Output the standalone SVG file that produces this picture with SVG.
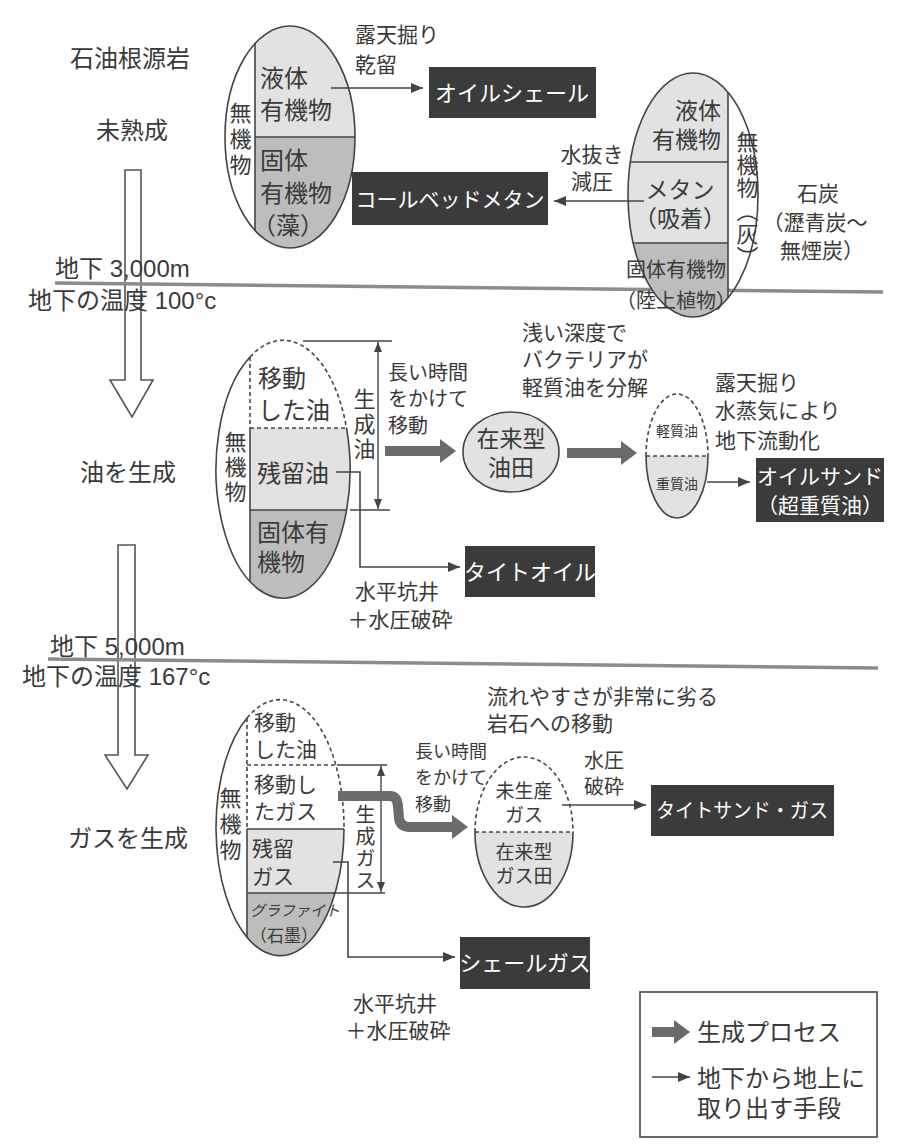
<svg xmlns="http://www.w3.org/2000/svg" width="899" height="1144" viewBox="0 0 899 1144">
<defs>
<style>
text{font-family:"Liberation Sans","Noto Sans CJK JP",sans-serif;fill:#3a3a3a;dominant-baseline:central}
.s24{font-size:24px}.s23{font-size:23px}.s22{font-size:22px}.s21{font-size:21px}.s20{font-size:20px}.s19{font-size:19px}.s18{font-size:18px}.s14{font-size:14px}
.mid{text-anchor:middle}.end{text-anchor:end}
.vt{writing-mode:vertical-rl;text-anchor:middle}
.wt{fill:#ffffff;text-anchor:middle}
.box{fill:#3b3b3b}
.ol{fill:none;stroke:#444;stroke-width:1.6}
.dash{fill:none;stroke:#444;stroke-width:1.6;stroke-dasharray:4 3}
.lt{fill:#e2e2e2}.dk{fill:#bdbdbd}
.thin{fill:none;stroke:#444;stroke-width:1.6;marker-end:url(#ah)}
.thick{fill:none;stroke:#6b6b6b;stroke-width:10;marker-end:url(#th)}
.dim{fill:none;stroke:#444;stroke-width:1.4}
.dimA{fill:none;stroke:#444;stroke-width:1.4;marker-start:url(#da);marker-end:url(#da)}
.rule{stroke:#8c8c8c;stroke-width:3.5}
.big{fill:#fff;stroke:#555;stroke-width:1.6}
</style>
<marker id="ah" markerUnits="userSpaceOnUse" markerWidth="12" markerHeight="10" refX="12" refY="5" orient="auto"><path d="M0,0 L12,5 L0,10 z" fill="#444"/></marker>
<marker id="th" markerUnits="userSpaceOnUse" markerWidth="16" markerHeight="24" refX="0" refY="12" orient="auto"><path d="M0,0 L16,12 L0,24 z" fill="#6b6b6b"/></marker>
<marker id="da" markerUnits="userSpaceOnUse" markerWidth="10" markerHeight="8" refX="10" refY="4" orient="auto-start-reverse"><path d="M0,0 L10,4 L0,8 z" fill="#444"/></marker>
<clipPath id="c1"><ellipse cx="290" cy="137" rx="65" ry="111"/></clipPath>
<clipPath id="c2"><ellipse cx="693" cy="195" rx="65" ry="122"/></clipPath>
<clipPath id="c3"><ellipse cx="283" cy="469" rx="67" ry="129"/></clipPath>
<clipPath id="c4"><ellipse cx="280" cy="828" rx="64" ry="128"/></clipPath>
</defs>
<rect width="899" height="1144" fill="#ffffff"/>

<g id="depth-axis">
<polygon class="big" points="125,170 141,170 141,380 153,380 132,417 110,380 125,380"/>
<polygon class="big" points="118,545 135,545 135,755 148,755 127,789 105,755 118,755"/>
<line class="rule" x1="55" y1="283" x2="883" y2="292"/>
<line class="rule" x1="48" y1="659" x2="878" y2="668"/>
<text class="s24" x="70" y="58">石油根源岩</text>
<text class="s24" x="96" y="130">未熟成</text>
<text class="s24" x="55" y="268">地下 3,000m</text>
<text class="s24" x="28" y="300">地下の温度 100°c</text>
<text class="s24" x="80" y="472">油を生成</text>
<text class="s24" x="50" y="646">地下 5,000m</text>
<text class="s24" x="22" y="676">地下の温度 167°c</text>
<text class="s24" x="68" y="838">ガスを生成</text>
</g>

<g id="source-rock">
<g clip-path="url(#c1)">
<rect class="lt" x="255" y="20" width="120" height="117"/>
<rect class="dk" x="255" y="137" width="120" height="120"/>
<line class="ol" x1="255" y1="137" x2="360" y2="137"/>
</g>
<line class="ol" x1="255" y1="43" x2="255" y2="231"/>
<ellipse class="ol" cx="290" cy="137" rx="65" ry="111"/>
<text class="s24" x="260" y="78">液体<tspan x="260" y="110">有機物</tspan></text>
<text class="s22 vt" x="238" y="141" letter-spacing="4">無機物</text>
<text class="s24" x="260" y="160">固体<tspan x="260" y="193">有機物</tspan><tspan x="252" y="225">（藻）</tspan></text>
</g>

<g id="coal">
<g clip-path="url(#c2)">
<rect class="lt" x="620" y="65" width="108" height="178"/>
<rect class="dk" x="620" y="243" width="108" height="90"/>
<line class="ol" x1="620" y1="162" x2="728" y2="162"/>
<line class="ol" x1="620" y1="243" x2="728" y2="243"/>
</g>
<line class="ol" x1="728" y1="92" x2="728" y2="298"/>
<ellipse class="ol" cx="693" cy="195" rx="65" ry="122"/>
<text class="s23 end" x="721" y="111">液体<tspan x="721" y="140">有機物</tspan></text>
<text class="s23 mid" x="680" y="190">メタン<tspan x="680" y="219">（吸着）</tspan></text>
<text class="s20 mid" x="676" y="270">固体有機物<tspan x="676" y="301">（陸上植物）</tspan></text>
<text class="s22 vt" x="745" y="200" letter-spacing="1">無機物（灰）</text>
<text class="s21 mid" x="818" y="193">石炭<tspan x="815" y="222">（瀝青炭～</tspan><tspan x="822" y="250">無煙炭）</tspan></text>
</g>

<g id="oil-shale">
<rect class="box" x="429" y="67" width="167" height="51"/>
<text class="s22 wt" x="512" y="93">オイルシェール</text>
</g>
<g id="cbm">
<rect class="box" x="352" y="172" width="196" height="53"/>
<text class="s21 wt" x="450" y="199">コールベッドメタン</text>
</g>

<g id="oil-gen">
<g clip-path="url(#c3)">
<rect class="lt" x="250" y="428" width="110" height="82"/>
<rect class="dk" x="250" y="510" width="110" height="100"/>
</g>
<path class="dash" d="M250,357 A67,129 0 0,1 346.5,428"/>
<path class="ol" d="M346.5,428 A67,129 0 1,1 250,357"/>
<line class="dash" x1="250" y1="357" x2="250" y2="428"/>
<line class="ol" x1="250" y1="428" x2="250" y2="581"/>
<line class="dash" x1="250" y1="428" x2="346.5" y2="428"/>
<line class="ol" x1="250" y1="510" x2="346.5" y2="510"/>
<text class="s24" x="258" y="378">移動<tspan x="258" y="410">した油</tspan></text>
<text class="s22 vt" x="233" y="468" letter-spacing="3">無機物</text>
<text class="s24" x="257" y="473">残留油</text>
<text class="s24" x="257" y="532">固体有<tspan x="257" y="562">機物</tspan></text>
</g>

<g id="oil-dim">
<line class="dim" x1="303" y1="341" x2="392" y2="341"/>
<line class="dim" x1="350" y1="510" x2="390" y2="510"/>
<line class="dimA" x1="378" y1="342" x2="378" y2="509"/>
<text class="s22 vt" x="362" y="425" letter-spacing="3">生成油</text>
</g>

<g id="conv-oil">
<ellipse cx="511" cy="452" rx="48" ry="40" fill="#e2e2e2" stroke="#444" stroke-width="1.6"/>
<text class="s23 mid" x="511" y="439">在来型<tspan x="511" y="468">油田</tspan></text>
</g>

<g id="heavy-oil">
<path class="lt" d="M646,456 L708,456 A31,62 0 0,1 646,456 Z"/>
<path class="dash" d="M646,456 A31,62 0 0,1 708,456"/>
<path class="ol" d="M708,456 A31,62 0 0,1 646,456"/>
<line class="dash" x1="646" y1="456" x2="708" y2="456"/>
<text class="s14 mid" x="677" y="431">軽質油</text>
<text class="s14 mid" x="677" y="484">重質油</text>
</g>

<g id="oil-sand">
<rect class="box" x="756" y="458" width="128" height="64"/>
<text class="s21 wt" x="820" y="476">オイルサンド<tspan x="820" y="505">（超重質油）</tspan></text>
</g>
<g id="tight-oil">
<rect class="box" x="465" y="546" width="130" height="51"/>
<text class="s22 wt" x="530" y="572">タイトオイル</text>
</g>

<g id="gas-gen">
<g clip-path="url(#c4)">
<rect class="lt" x="247" y="829" width="110" height="64"/>
<rect class="dk" x="247" y="893" width="110" height="70"/>
</g>
<path class="dash" d="M247,718 A64,128 0 0,1 344,829"/>
<path class="ol" d="M344,829 A64,128 0 1,1 247,718"/>
<line class="dash" x1="247" y1="718" x2="247" y2="829"/>
<line class="ol" x1="247" y1="829" x2="247" y2="938"/>
<line class="dash" x1="247" y1="765" x2="336" y2="765"/>
<line class="ol" x1="247" y1="829" x2="344" y2="829"/>
<line class="ol" x1="247" y1="893" x2="335" y2="893"/>
<text class="s21" x="254" y="722">移動<tspan x="254" y="749">した油</tspan></text>
<text class="s21" x="254" y="784">移動し<tspan x="254" y="811">たガス</tspan></text>
<text class="s22 vt" x="228" y="826" letter-spacing="4">無機物</text>
<text class="s21" x="252" y="848">残留<tspan x="252" y="876">ガス</tspan></text>
<text x="250" y="910" font-size="15" font-style="italic">グラファイト<tspan x="250" y="936" font-size="17" font-style="normal">（石墨）</tspan></text>
</g>

<g id="gas-dim">
<line class="dim" x1="337" y1="765" x2="387" y2="765"/>
<line class="dim" x1="333" y1="893" x2="385" y2="893"/>
<line class="dimA" x1="381" y1="766" x2="381" y2="892"/>
<text class="s20 vt" x="364" y="848" letter-spacing="2">生成ガス</text>
</g>

<g id="conv-gas">
<path class="lt" d="M475,832 L573,832 A49,75 0 0,1 475,832 Z"/>
<path class="dash" d="M475,832 A49,75 0 0,1 573,832"/>
<path class="ol" d="M573,832 A49,75 0 0,1 475,832"/>
<line class="dash" x1="475" y1="832" x2="573" y2="832"/>
<text class="s19 mid" x="524" y="791">未生産<tspan x="524" y="815">ガス</tspan></text>
<text class="s19 mid" x="524" y="852">在来型<tspan x="524" y="876">ガス田</tspan></text>
</g>

<g id="tight-sand-gas">
<rect class="box" x="651" y="785" width="183" height="51"/>
<text class="s20 wt" x="742" y="811" textLength="172" lengthAdjust="spacingAndGlyphs">タイトサンド・ガス</text>
</g>
<g id="shale-gas">
<rect class="box" x="460" y="937" width="130" height="52"/>
<text class="s22 wt" x="525" y="963">シェールガス</text>
</g>

<g id="connectors">
<line class="thin" x1="331" y1="88" x2="423" y2="88"/>
<line class="thin" x1="644" y1="201" x2="554" y2="201"/>
<line class="thick" x1="385" y1="451" x2="440" y2="451"/>
<line class="thick" x1="567" y1="453" x2="621" y2="453"/>
<line class="thin" x1="707" y1="482" x2="750" y2="482"/>
<path class="thin" d="M336,472 H360 V567 H460"/>
<path class="thick" d="M338,796 H390 Q397,796 398,806 L399,818 Q400,827 410,827 H452" stroke-linejoin="round"/>
<line class="thin" x1="562" y1="805" x2="646" y2="805"/>
<path class="thin" d="M333,862 H348 V957 H455"/>
</g>

<g id="labels">
<text class="s21" x="355" y="34">露天掘り<tspan x="355" y="64">乾留</tspan></text>
<text class="s21 mid" x="592" y="154">水抜き<tspan x="592" y="181">減圧</tspan></text>
<text class="s20" x="388" y="373">長い時間<tspan x="388" y="399">をかけて</tspan><tspan x="388" y="426">移動</tspan></text>
<text class="s21" x="522" y="332">浅い深度で<tspan x="522" y="359">バクテリアが</tspan><tspan x="522" y="387">軽質油を分解</tspan></text>
<text class="s21" x="715" y="382">露天掘り<tspan x="715" y="410">水蒸気により</tspan><tspan x="715" y="440">地下流動化</tspan></text>
<text class="s21 mid" x="397" y="591">水平坑井<tspan x="400" y="619">＋水圧破砕</tspan></text>
<text class="s21" x="487" y="696">流れやすさが非常に劣る<tspan x="487" y="723">岩石への移動</tspan></text>
<text class="s18" x="415" y="752">長い時間<tspan x="415" y="778">をかけて</tspan><tspan x="415" y="805">移動</tspan></text>
<text class="s20 mid" x="604" y="761">水圧<tspan x="604" y="787">破砕</tspan></text>
<text class="s21 mid" x="395" y="1003">水平坑井<tspan x="398" y="1030">＋水圧破砕</tspan></text>
</g>

<g id="legend">
<rect x="640" y="992" width="237" height="145" fill="#fff" stroke="#444" stroke-width="1.6"/>
<line class="thick" x1="652" y1="1032" x2="674" y2="1032"/>
<text class="s24" x="697" y="1032">生成プロセス</text>
<line class="thin" x1="652" y1="1077" x2="690" y2="1077"/>
<text class="s24" x="697" y="1078">地下から地上に<tspan x="697" y="1108">取り出す手段</tspan></text>
</g>
</svg>
